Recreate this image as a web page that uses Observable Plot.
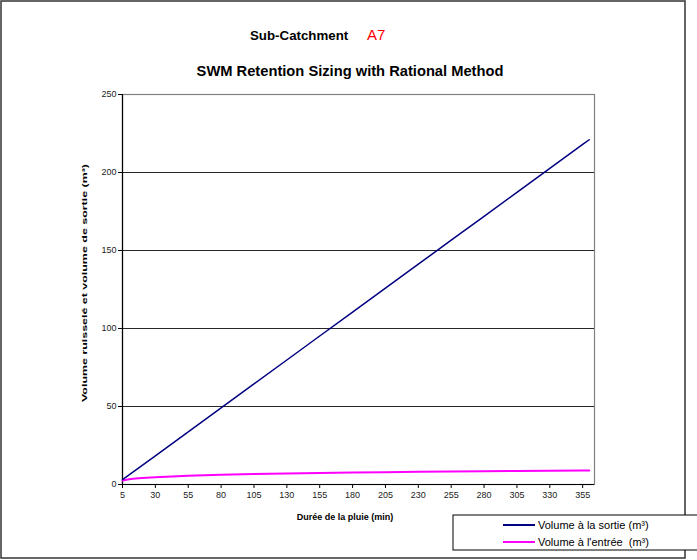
<!DOCTYPE html>
<html>
<head>
<meta charset="utf-8">
<script src="https://cdn.jsdelivr.net/npm/d3@7"></script>
<script src="https://cdn.jsdelivr.net/npm/@observablehq/plot@0.6"></script>
<style>
  html, body { margin: 0; padding: 0; background: #fff; }
  svg text { font-family: "Liberation Sans", Arial, sans-serif; }
</style>
</head>
<body>
<div id="chart"></div>
<script>
// Durée de la pluie (min)
const durations = [5, 10, 15, 20, 30, 55, 80, 105, 130, 155, 180, 205, 230, 255, 280, 305, 330, 355, 360];
// Volume à la sortie (m³)
const volumeSortie = [3.1, 6.1, 9.2, 12.3, 18.4, 33.8, 49.1, 64.5, 79.8, 95.2, 110.5, 125.9, 141.2, 156.6, 171.9, 187.3, 202.6, 218.0, 221.0];
// Volume à l'entrée (m³)
const volumeEntree = [2.6, 3.3, 3.8, 4.1, 4.7, 5.6, 6.2, 6.7, 7.1, 7.4, 7.7, 7.9, 8.1, 8.3, 8.5, 8.7, 8.85, 9.0, 9.05];
// tick labels
const xTicks = [5, 30, 55, 80, 105, 130, 155, 180, 205, 230, 255, 280, 305, 330, 355];
const yTicks = [0, 50, 100, 150, 200, 250];
const gridLines = [50, 100, 150, 200];

const seriesNames = ["Volume à la sortie (m³)", "Volume à l'entrée  (m³)"];
const seriesColors = ["#000080", "#FF00FF"];

const sortieRows = durations.map((t, i) => ({t, v: volumeSortie[i]}));
const entreeRows = durations.map((t, i) => ({t, v: volumeEntree[i]}));

const svg = Plot.plot({
  width: 697,
  height: 560,
  marginTop: 94,
  marginBottom: 76,
  marginLeft: 122,
  marginRight: 103,
  style: {fontFamily: "Liberation Sans, Arial, sans-serif", fontSize: "9px", color: "#000", background: "#fff", overflow: "visible"},
  x: {type: "linear", domain: [5, 364]},
  y: {domain: [0, 250]},
  marks: [
    Plot.ruleY(gridLines, {stroke: "#000", strokeWidth: 1, strokeOpacity: 0.85}),
    Plot.frame({stroke: "#808080", strokeWidth: 1.2}),
    Plot.ruleX([5], {stroke: "#000", strokeWidth: 1.2}),
    Plot.ruleY([0], {stroke: "#000", strokeWidth: 1.2}),
    Plot.axisX({ticks: xTicks, tickSize: 4, tickPadding: 3, tickFormat: d => String(d), label: null, stroke: "#000", fill: "#222"}),
    Plot.axisY({ticks: yTicks, tickSize: 4, tickPadding: 2, tickFormat: d => String(d), label: null, stroke: "#000", fill: "#222"}),
    Plot.line(entreeRows, {x: "t", y: "v", stroke: seriesColors[1], strokeWidth: 2}),
    Plot.line(sortieRows, {x: "t", y: "v", stroke: seriesColors[0], strokeWidth: 1.5})
  ]
});

const s = d3.select(svg);
// outer chart border
s.insert("rect", ":first-child")
  .attr("x", 1).attr("y", 1).attr("width", 684).attr("height", 557)
  .attr("fill", "none").attr("stroke", "#333").attr("stroke-width", 1.5);

// titles
s.append("text").attr("x", 250).attr("y", 40).attr("text-anchor", "start")
  .attr("font-size", 13.3).attr("font-weight", "bold").attr("fill", "#000").text("Sub-Catchment");
s.append("text").attr("x", 367).attr("y", 39.5).attr("text-anchor", "start")
  .attr("font-size", 15).attr("fill", "#FF0000").text("A7");
s.append("text").attr("x", 350).attr("y", 76).attr("text-anchor", "middle")
  .attr("font-size", 14.7).attr("font-weight", "bold").attr("fill", "#000").text("SWM Retention Sizing with Rational Method");

// axis labels
s.append("text").attr("transform", "translate(87,283) rotate(-90)").attr("text-anchor", "middle")
  .attr("font-size", 8).attr("font-weight", "bold").attr("fill", "#000")
  .attr("textLength", 238).attr("lengthAdjust", "spacingAndGlyphs")
  .text("Volume ruisselé et volume de sortie (m³)");
s.append("text").attr("x", 345).attr("y", 520).attr("text-anchor", "middle")
  .attr("font-size", 9).attr("font-weight", "bold").attr("fill", "#000").text("Durée de la pluie (min)");

// legend
const lg = s.append("g");
lg.append("rect").attr("x", 453).attr("y", 515).attr("width", 260).attr("height", 35)
  .attr("fill", "#fff").attr("stroke", "#000").attr("stroke-width", 1);
seriesNames.forEach((name, i) => {
  const y = 525 + i * 17;
  lg.append("line").attr("x1", 503).attr("x2", 535).attr("y1", y).attr("y2", y)
    .attr("stroke", seriesColors[i]).attr("stroke-width", 2);
  lg.append("text").attr("x", 538).attr("y", y + 4).attr("font-size", 11)
    .attr("text-anchor", "start")
    .attr("fill", "#000").style("white-space", "pre").text(name);
});

document.getElementById("chart").appendChild(svg);
</script>
</body>
</html>
